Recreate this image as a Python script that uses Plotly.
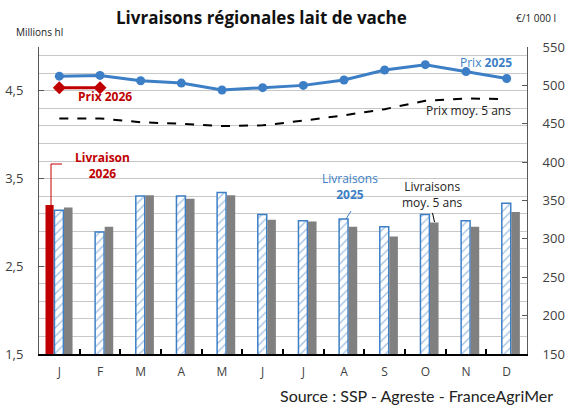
import plotly.graph_objects as go
import numpy as np

# ---------------- data ----------------
months = ["J", "F", "M", "A", "M", "J", "J", "A", "S", "O", "N", "D"]
livraison_2026 = [3.20, None, None, None, None, None, None, None, None, None, None, None]
livraisons_2025 = [3.14, 2.89, 3.30, 3.30, 3.34, 3.09, 3.02, 3.04, 2.95, 3.09, 3.02, 3.22]
livraisons_moy5 = [3.17, 2.95, 3.31, 3.27, 3.31, 3.03, 3.01, 2.95, 2.84, 3.00, 2.95, 3.12]
prix_2025 = [512, 513, 506, 503, 494, 497, 500, 507, 520, 527, 518, 509]
prix_2026 = [497, 497, None, None, None, None, None, None, None, None, None, None]
prix_moy5 = [457, 457, 452, 450, 447, 448, 454, 461, 469, 480, 483, 482]
left_ticks = [1.5, 2.5, 3.5, 4.5]
left_ticktext = ["1,5", "2,5", "3,5", "4,5"]
right_ticks = [150, 200, 250, 300, 350, 400, 450, 500, 550]

# ---------------- style ----------------
RED = "#c00000"
BLUE = "#3d7fc6"
GRAY = "#808080"
FONT = "Open Sans"
W, H = 567, 405
L, R, T, B = 39, 527, 47, 354

def px(x):
    return (x - L) / (R - L)

def py(y):
    return (B - y) / (B - T)

xs = list(range(len(months)))

fig = go.Figure()
fig.add_bar(x=xs, y=livraison_2026, width=0.2, offset=-0.34,
            marker=dict(color=RED, line=dict(width=0)), yaxis="y")
fig.add_bar(x=xs, y=livraisons_2025, width=0.22, offset=-0.12,
            marker=dict(color="white",
                        pattern=dict(shape="/", fgcolor=BLUE, bgcolor="white", size=6, solidity=0.22),
                        line=dict(color=BLUE, width=1.5)), yaxis="y")
fig.add_bar(x=xs, y=livraisons_moy5, width=0.21, offset=0.115,
            marker=dict(color=GRAY, line=dict(width=0)), yaxis="y")

fig.add_scatter(x=xs, y=prix_moy5, mode="lines", yaxis="y2",
                line=dict(color="black", width=2, dash="dash"))
fig.add_scatter(x=xs, y=prix_2025, mode="lines+markers", yaxis="y2",
                line=dict(color=BLUE, width=3), marker=dict(size=9, color=BLUE))
fig.add_scatter(x=xs, y=prix_2026, mode="lines+markers", yaxis="y2",
                line=dict(color=RED, width=3), marker=dict(size=10, color=RED, symbol="diamond"))

minor_y = [round(v, 2) for v in np.arange(1.7, 4.95, 0.2)] + [5.0]

fig.update_layout(
    width=W, height=H,
    margin=dict(l=L, r=W - R, t=T, b=H - B, autoexpand=False),
    paper_bgcolor="white", plot_bgcolor="white",
    showlegend=False,
    barmode="overlay",
    font=dict(family=FONT, color="#404040", size=12),
    xaxis=dict(range=[-0.5, 11.5], tickmode="array", tickvals=xs, ticktext=months,
               ticks="", showline=True, linecolor="black", linewidth=1.5, automargin=False,
               showgrid=False, zeroline=False, tickfont=dict(size=12, color="#404040"),
               ticklabelstandoff=6,
               minor=dict(tickvals=[i + 0.5 for i in range(11)], ticks="inside",
                          ticklen=5, tickcolor="black", tickwidth=1.5, showgrid=False)),
    yaxis=dict(range=[1.5, 5.0], tickmode="array", tickvals=left_ticks, ticktext=left_ticktext,
               ticks="inside", ticklen=5, tickcolor="#595959", automargin=False,
               showline=True, linecolor="#595959", linewidth=1,
               showgrid=True, gridcolor="#c8c8c8", gridwidth=1, zeroline=False,
               tickfont=dict(size=13, color="#404040"), ticklabelstandoff=12,
               minor=dict(tickvals=minor_y, showgrid=True, gridcolor="#c8c8c8", gridwidth=1, ticks="")),
    yaxis2=dict(range=[150, 550], overlaying="y", side="right", tickmode="array",
                tickvals=right_ticks, ticks="inside", ticklen=5, tickcolor="#595959",
                showline=True, linecolor="#595959", linewidth=1, automargin=False,
                showgrid=False, zeroline=False, tickfont=dict(size=13, color="#404040"),
                ticklabelstandoff=12),
)

def ann(text, x, y, color="black", size=12, xanchor="center", yanchor="middle", align="center", family=FONT):
    fig.add_annotation(text=text, x=px(x), y=py(y), xref="paper", yref="paper",
                       showarrow=False, xanchor=xanchor, yanchor=yanchor, align=align,
                       font=dict(family=family, size=size, color=color))

ann("<b>Livraisons régionales lait de vache</b>", 261, 18, color="#111111", size=17)
ann("Millions hl", 14, 32, color="#222222", size=10, xanchor="left")
ann("€/1 000 l", 536, 18, color="#222222", size=10)
ann("Prix <b>2025</b>", 486, 62, color=BLUE, size=12)
ann("Prix moy. 5 ans", 468, 110, color="#222222", size=12)
ann("<b>Prix 2026</b>", 105, 97, color=RED, size=12)
ann("<b>Livraison<br>2026</b>", 102, 165, color=RED, size=12)
ann("Livraisons<br><b>2025</b>", 350, 186, color=BLUE, size=12)
ann("Livraisons<br>moy. 5 ans", 432, 194, color="#222222", size=12)
ann("Source : SSP - Agreste - FranceAgriMer", 555, 395, color="#222222", size=16,
    xanchor="right", family="Lato")

# leader lines
def seg(x0, y0, x1, y1, color, width=1):
    fig.add_shape(type="line", xref="paper", yref="paper",
                  x0=px(x0), y0=py(y0), x1=px(x1), y1=py(y1),
                  line=dict(color=color, width=width))

seg(62, 164, 51, 164, RED)
seg(51, 164, 51, 205, RED)
seg(351, 211, 346, 219, BLUE)
seg(432.5, 213, 434.5, 222, "black")

fig.write_html("out.html", config={"displayModeBar": False},
               post_script="document.body.style.margin='0';")
